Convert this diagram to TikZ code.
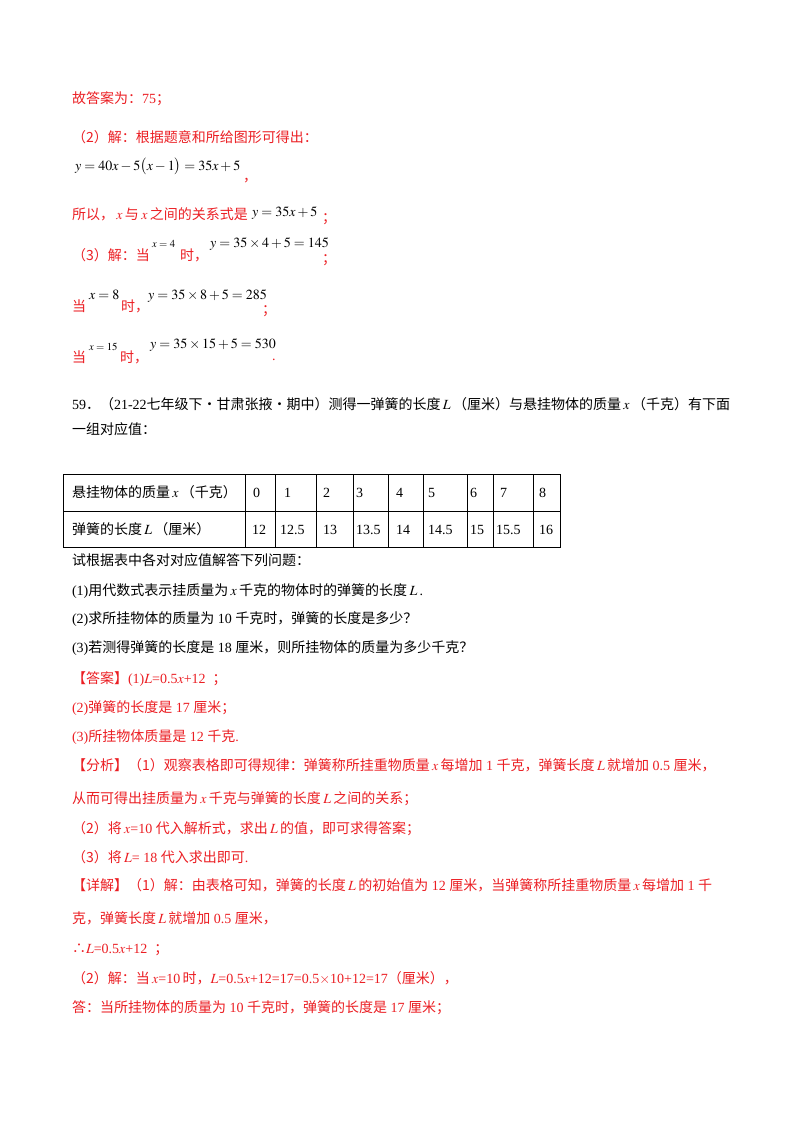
\documentclass[tikz,border=0pt]{standalone}
\usepackage{mathptmx}
\usepackage{fontspec}
\setmainfont{Liberation Serif}
\newfontfamily\cjk{Noto Sans CJK SC}
\newcommand\C[1]{{\cjk #1}}
\newcommand\vx{\,$x$\,}
\newcommand\vL{\,$L$\,}
\definecolor{ansred}{RGB}{235,30,35}
\begin{document}
\begin{tikzpicture}[x=0.75pt,y=-0.75pt,
  every node/.style={inner sep=0pt,outer sep=0pt,anchor=base west,font=\fontsize{10.5}{12}\selectfont},
  rt/.style={text=ansred},
  sm/.style={font=\fontsize{8}{9}\selectfont}]
\useasboundingbox (0,0) rectangle (800,1132);
% top red part
\node[rt] (l1) at (72,103) {\C{故答案为：}75\C{；}};
\node[rt] (l2) at (72,142) {\C{（2）解：根据题意和所给图形可得出：}};
\node (f1) at (75,170) {$y=40x-5\bigl(x-1\bigr)=35x+5$};
\node[rt] (c1) at (243,181) {\C{，}};
\node[rt] (l3) at (72,219) {\C{所以，}\vx\C{与}\vx\C{之间的关系式是}};
\node (f2) at (252,216) {$y=35x+5$};
\node[rt] (c2) at (322,222) {\C{；}};
\node[rt] (l4) at (72,260) {\C{（3）解：当}};
\node[sm] (s1) at (152,247) {$x=4$};
\node[rt] (l4b) at (180,260) {\C{时，}};
\node (f3) at (210,247) {$y=35\times4+5=145$};
\node[rt] (c3) at (322,263) {\C{；}};
\node[rt] (l5) at (72,311) {\C{当}};
\node (s2) at (89,299) {$x=8$};
\node[rt] (l5b) at (121,311) {\C{时，}};
\node (f4) at (148,299) {$y=35\times8+5=285$};
\node[rt] (c4) at (262,314) {\C{；}};
\node[rt] (l6) at (72,362) {\C{当}};
\node[sm] (s3) at (89,350) {$x=15$};
\node[rt] (l6b) at (120,362) {\C{时，}};
\node (f5) at (150,348) {$y=35\times15+5=530$};
\node[rt] (c5) at (272,360) {.};
% question
\node (q1) at (72,409) {59\C{．（}21-22\C{七年级下·甘肃张掖·期中）测得一弹簧的长度}\vL\C{（厘米）与悬挂物体的质量}\vx\C{（千克）有下面}};
\node (q2) at (72,434) {\C{一组对应值：}};
% table
\draw[line width=0.6pt] (63,474) rectangle (560,547);
\draw[line width=0.6pt] (63,511) -- (560,511);
\foreach \xx in {245,275,316,353,388,423,467,493,533}
  \draw[line width=0.6pt] (\xx,474) -- (\xx,547);
\node (h1) at (72,497) {\C{悬挂物体的质量}\vx\C{（千克）}};
\node (h2) at (72,534) {\C{弹簧的长度}\vL\C{（厘米）}};
\foreach \xx/\t [count=\i] in {253/0,284/1,323/2,356/3,396/4,428/5,470/6,500/7,539/8}
  \node (a\i) at (\xx,497) {\t};
\foreach \xx/\t [count=\i] in {252/12,280/12.5,323/13,356/13.5,396/14,428/14.5,470/15,496/15.5,539/16}
  \node (b\i) at (\xx,534) {\t};
\node (q3) at (72,565) {\C{试根据表中各对对应值解答下列问题：}};
\node (q4) at (72,595) {(1)\C{用代数式表示挂质量为}\vx\C{千克的物体时的弹簧的长度}\vL.};
\node (q5) at (72,623) {(2)\C{求所挂物体的质量为} 10 \C{千克时，弹簧的长度是多少？}};
\node (q6) at (72,652) {(3)\C{若测得弹簧的长度是} 18 \C{厘米，则所挂物体的质量为多少千克？}};
% answer
\node[rt] (an1) at (72,683) {\C{【答案】}(1)$L$=0.5$x$+12 \ \C{；}};
\node[rt] (an2) at (72,712) {(2)\C{弹簧的长度是} 17 \C{厘米；}};
\node[rt] (an3) at (72,741) {(3)\C{所挂物体质量是} 12 \C{千克}.};
\node[rt] (fx1) at (72,770) {\C{【分析】（1）观察表格即可得规律：弹簧称所挂重物质量}\vx\C{每增加} 1 \C{千克，弹簧长度}\vL\C{就增加} 0.5 \C{厘米，}};
\node[rt] (fx2) at (72,803) {\C{从而可得出挂质量为}\vx\C{千克与弹簧的长度}\vL\C{之间的关系；}};
\node[rt] (fx3) at (72,833) {\C{（2）将}\,$x$=10 \C{代入解析式，求出}\vL\C{的值，即可求得答案；}};
\node[rt] (fx4) at (72,862) {\C{（3）将}\,$L$= 18 \C{代入求出即可}.};
\node[rt] (xj1) at (72,890) {\C{【详解】（1）解：由表格可知，弹簧的长度}\vL\C{的初始值为} 12 \C{厘米，当弹簧称所挂重物质量}\vx\C{每增加} 1 \C{千}};
\node[rt] (xj2) at (72,923) {\C{克，弹簧长度}\vL\C{就增加} 0.5 \C{厘米，}};
\node[rt] (xj3) at (72,953) {\C{∴}$L$=0.5$x$+12 \ \C{；}};
\node[rt] (xj4) at (72,983) {\C{（2）解：当}\,$x$=10\,\C{时，}$L$=0.5$x$+12=17=0.5$\times$10+12=17\C{（厘米），}};
\node[rt] (xj5) at (72,1012) {\C{答：当所挂物体的质量为} 10 \C{千克时，弹簧的长度是} 17 \C{厘米；}};
\end{tikzpicture}
\end{document}
